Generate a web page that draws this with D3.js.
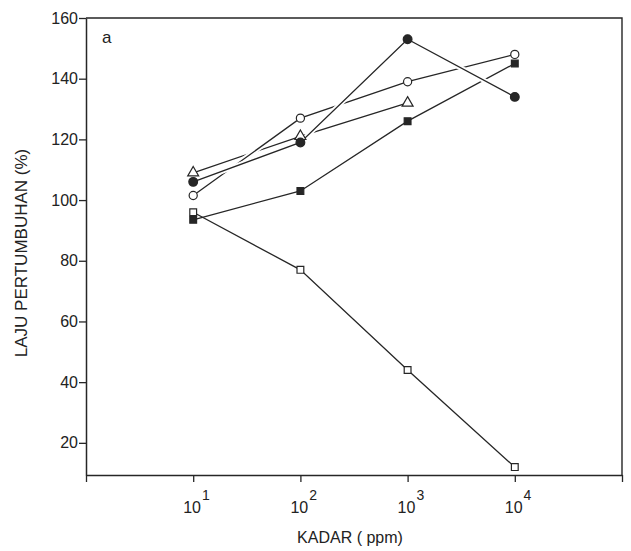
<!DOCTYPE html>
<html>
<head>
<meta charset="utf-8">
<script src="https://cdn.jsdelivr.net/npm/d3@7"></script>
<style>
  body { margin: 0; background: #fff; }
  text { font-family: "Liberation Sans", Arial, sans-serif; fill: #222; }
</style>
</head>
<body>
<div id="chart"></div>
<script>
// concentrations (ppm) and growth rate (%)
var kadar = [10, 100, 1000, 10000];
var openCircle = [101.5, 127, 139, 148];
var filledCircle = [106, 119, 153, 134];
var triangle = [109, 121, 132];
var filledSquare = [93.5, 103, 126, 145];
var openSquare = [96, 77, 44, 12];

var xTicks = [1, 10, 100, 1000, 10000, 100000];
var xTickExp = ["", "1", "2", "3", "4", ""];
var yTicks = [20, 40, 60, 80, 100, 120, 140, 160];

var width = 631, height = 551;
var ink = "#262626";

var svg = d3.select("#chart").append("svg")
  .attr("width", width)
  .attr("height", height);

var x = d3.scaleLog().domain([1, 100000]).range([86, 622]);
var y = d3.scaleLinear().domain([9.4, 160]).range([475, 18]);

// box: top and right edges
svg.append("path")
  .attr("d", "M" + x(1) + "," + y(160) + "H" + x(100000) + "V" + y(9.4))
  .style("fill", "none").style("stroke", ink).style("stroke-width", 1.4);

var xAxis = svg.append("g")
  .attr("transform", "translate(0," + y(9.4) + ")")
  .call(d3.axisBottom(x).tickValues(xTicks).tickSize(7).tickSizeOuter(0).tickFormat(function() { return ""; }));

var yAxis = svg.append("g")
  .attr("transform", "translate(" + x(1) + ",0)")
  .call(d3.axisLeft(y).tickValues(yTicks).tickSize(7).tickSizeOuter(0).tickPadding(1));

[xAxis, yAxis].forEach(function(a) {
  a.select(".domain").style("stroke", ink).style("stroke-width", 1.5);
  a.selectAll(".tick line").style("stroke", ink).style("stroke-width", 1.3);
});
yAxis.selectAll(".tick text")
  .style("font-size", "16px")
  .style("font-family", "'Liberation Sans', Arial, sans-serif")
  .attr("fill", "#222");

// x tick labels as 10 with exponent
var xl = svg.append("g").selectAll("text")
  .data(xTicks.filter(function(d, i) { return xTickExp[i] !== ""; }))
  .enter().append("text")
  .attr("x", function(d) { return x(d) - 10; })
  .attr("y", 513)
  .style("font-size", "16px");
xl.append("tspan").text("10");
xl.append("tspan")
  .attr("dx", 1)
  .attr("dy", -13)
  .style("font-size", "14px")
  .text(function(d) { return xTickExp[xTicks.indexOf(d)]; });

// axis titles
svg.append("text")
  .attr("x", 350).attr("y", 543)
  .attr("text-anchor", "middle")
  .style("font-size", "16px")
  .text("KADAR ( ppm)");

svg.append("text")
  .attr("transform", "translate(27,253) rotate(-90)")
  .attr("text-anchor", "middle")
  .style("font-size", "17px")
  .text("LAJU PERTUMBUHAN (%)");

svg.append("text")
  .attr("x", 102).attr("y", 43)
  .style("font-size", "17px")
  .text("a");

// series
var series = [
  { name: "filledSquare", values: filledSquare, symbol: d3.symbolSquare, size: 46, fill: ink, cut: false },
  { name: "openSquare", values: openSquare, symbol: d3.symbolSquare, size: 46, fill: "#fff", cut: false },
  { name: "triangle", values: triangle, symbol: d3.symbolTriangle, size: 52, fill: "#fff", cut: false },
  { name: "openCircle", values: openCircle, symbol: d3.symbolCircle, size: 52, fill: "#fff", cut: true },
  { name: "filledCircle", values: filledCircle, symbol: d3.symbolCircle, size: 60, fill: ink, cut: true }
];

var line = d3.line()
  .x(function(d) { return x(d.k); })
  .y(function(d) { return y(d.v); });

function pts(s) {
  return s.values.map(function(v, i) { return { k: kadar[i], v: v }; });
}

var lines = svg.append("g");
series.forEach(function(s) {
  // white casing gives the little breaks where lines cross
  if (s.cut) {
    lines.append("path")
      .datum(pts(s))
      .attr("d", line)
      .style("fill", "none")
      .style("stroke", "#fff")
      .style("stroke-width", 5);
  }
  lines.append("path")
    .datum(pts(s))
    .attr("d", line)
    .style("fill", "none")
    .style("stroke", ink)
    .style("stroke-width", 1.3);
});

var marks = svg.append("g");
series.forEach(function(s) {
  marks.selectAll("path." + s.name)
    .data(pts(s))
    .enter().append("path")
    .attr("class", s.name)
    .attr("d", d3.symbol().type(s.symbol).size(s.size))
    .attr("transform", function(d) { return "translate(" + x(d.k) + "," + y(d.v) + ")"; })
    .style("fill", s.fill)
    .style("stroke", ink)
    .style("stroke-width", 1.2);
});
</script>
</body>
</html>
